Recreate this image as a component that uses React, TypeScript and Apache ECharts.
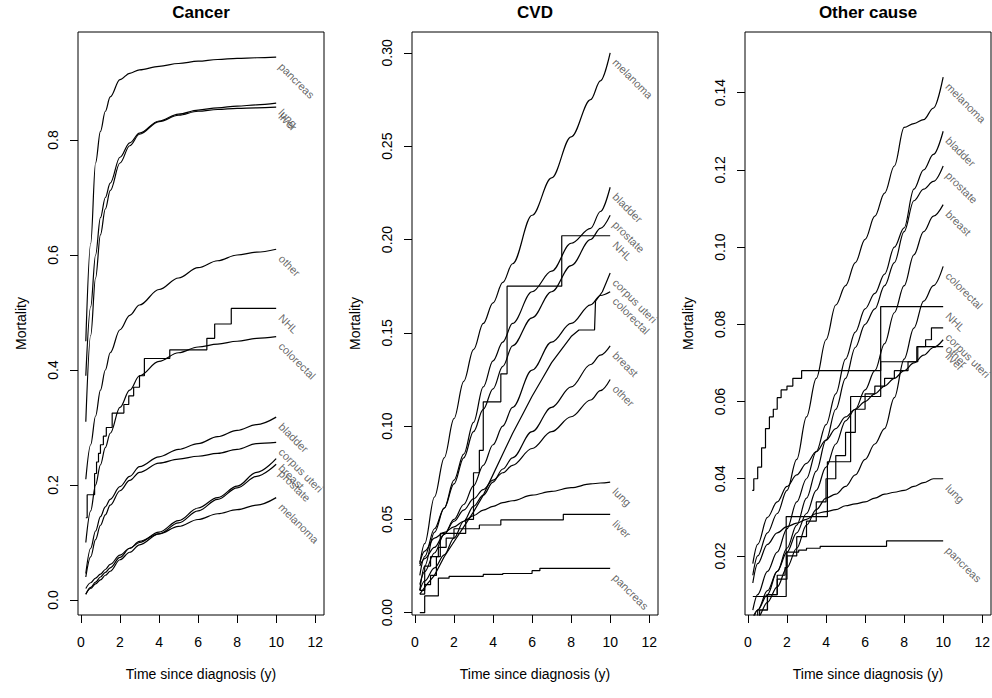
import React, { useEffect, useRef } from "react";
import * as echarts from "echarts";

const FONT = "Liberation Sans";
type Pair = [number, number];

// ---------- shared axis ticks ----------
const xTicks = [0, 2, 4, 6, 8, 10, 12];
const cancerYTicks = [0, 0.2, 0.4, 0.6, 0.8];
const cvdYTicks = [0, 0.05, 0.1, 0.15, 0.2, 0.25, 0.3];
const ocYTicks = [0.02, 0.04, 0.06, 0.08, 0.1, 0.12, 0.14];

// ---------- Cancer ----------
const cancerTimes = [0.25, 0.5, 0.75, 1, 1.25, 1.5, 2, 2.5, 3, 4, 5, 6, 7, 8, 9, 10];
const cancerPancreas = [0.45, 0.62, 0.76, 0.815, 0.85, 0.875, 0.905, 0.916, 0.922, 0.928, 0.933, 0.937, 0.94, 0.942, 0.943, 0.944];
const cancerLung = [0.39, 0.51, 0.6, 0.665, 0.7, 0.725, 0.77, 0.795, 0.812, 0.833, 0.845, 0.852, 0.856, 0.859, 0.861, 0.864];
const cancerLiver = [0.31, 0.46, 0.56, 0.635, 0.68, 0.712, 0.76, 0.79, 0.81, 0.832, 0.843, 0.85, 0.853, 0.855, 0.856, 0.857];
const cancerOther = [0.21, 0.27, 0.32, 0.365, 0.4, 0.43, 0.47, 0.495, 0.513, 0.54, 0.56, 0.578, 0.59, 0.6, 0.605, 0.61];
const cancerColorectal = [0.1, 0.155, 0.2, 0.235, 0.265, 0.29, 0.335, 0.365, 0.39, 0.415, 0.43, 0.44, 0.445, 0.45, 0.455, 0.458];
const cancerBladder = [0.046, 0.09, 0.12, 0.145, 0.162, 0.175, 0.197, 0.215, 0.232, 0.249, 0.262, 0.272, 0.284, 0.295, 0.305, 0.318];
const cancerCorpusUteri = [0.04, 0.075, 0.105, 0.13, 0.148, 0.165, 0.19, 0.208, 0.222, 0.238, 0.245, 0.25, 0.255, 0.262, 0.272, 0.274];
const cancerBreast = [0.02, 0.03, 0.038, 0.045, 0.053, 0.062, 0.078, 0.09, 0.1, 0.118, 0.138, 0.16, 0.178, 0.198, 0.222, 0.246];
const cancerProstate = [0.01, 0.02, 0.028, 0.035, 0.043, 0.05, 0.07, 0.083, 0.096, 0.115, 0.134, 0.155, 0.175, 0.195, 0.215, 0.236];
const cancerMelanoma = [0.01, 0.022, 0.031, 0.04, 0.048, 0.056, 0.074, 0.09, 0.102, 0.115, 0.128, 0.14, 0.15, 0.157, 0.165, 0.178];
const cancerNHL: Pair[] = [[0.25, 0.143], [0.32, 0.183], [0.7, 0.22], [0.8, 0.24], [0.9, 0.255], [1.0, 0.27], [1.15, 0.285], [1.3, 0.3], [1.6, 0.325], [2.2, 0.34], [2.45, 0.355], [2.7, 0.37], [3.0, 0.39], [3.25, 0.42], [4.55, 0.435], [6.45, 0.455], [6.85, 0.48], [7.7, 0.507], [10, 0.507]];

// ---------- CVD ----------
const cvdTimes = [0.25, 0.5, 1, 1.5, 2, 2.5, 3, 3.5, 4, 4.5, 5, 6, 7, 8, 9, 9.5, 10];
const cvdMelanoma = [0.026, 0.037, 0.062, 0.083, 0.104, 0.124, 0.141, 0.155, 0.166, 0.177, 0.187, 0.213, 0.233, 0.255, 0.275, 0.285, 0.3];
const cvdBladder = [0.02, 0.03, 0.045, 0.056, 0.071, 0.085, 0.102, 0.121, 0.135, 0.145, 0.155, 0.172, 0.183, 0.198, 0.206, 0.215, 0.228];
const cvdProstate = [0.012, 0.025, 0.043, 0.056, 0.069, 0.083, 0.097, 0.109, 0.12, 0.132, 0.143, 0.158, 0.172, 0.186, 0.2, 0.206, 0.213];
const cvdColorectal = [0.015, 0.022, 0.032, 0.042, 0.05, 0.058, 0.068, 0.079, 0.09, 0.1, 0.11, 0.13, 0.145, 0.155, 0.165, 0.17, 0.172];
const cvdBreast = [0.012, 0.017, 0.024, 0.031, 0.04, 0.049, 0.057, 0.063, 0.07, 0.077, 0.083, 0.097, 0.11, 0.121, 0.133, 0.138, 0.143];
const cvdOther = [0.025, 0.029, 0.035, 0.042, 0.049, 0.055, 0.061, 0.066, 0.071, 0.075, 0.079, 0.088, 0.097, 0.105, 0.114, 0.119, 0.125];
const cvdLung = [0.027, 0.033, 0.04, 0.043, 0.046, 0.049, 0.052, 0.055, 0.057, 0.059, 0.06, 0.063, 0.065, 0.067, 0.069, 0.0695, 0.07];
const cvdNHL: Pair[] = [[0.25, 0.012], [0.5, 0.025], [0.8, 0.03], [1.2, 0.035], [1.6, 0.04], [2.0, 0.045], [2.6, 0.05], [3.0, 0.075], [3.3, 0.087], [3.5, 0.113], [4.4, 0.128], [4.72, 0.175], [7.52, 0.202], [10, 0.202]];
const cvdCorpusUteri: Pair[] = [[0.25, 0.01], [0.6, 0.015], [1.0, 0.02], [1.5, 0.03], [2.0, 0.038], [2.5, 0.046], [3.0, 0.054], [3.5, 0.063], [4.0, 0.074], [4.5, 0.085], [5.0, 0.096], [5.5, 0.106], [6.0, 0.116], [6.5, 0.125], [7.0, 0.134], [7.5, 0.141], [8.0, 0.148], [8.4, 0.1515], [9.2, 0.1515], [9.25, 0.167], [9.6, 0.172], [9.8, 0.177], [10, 0.182]];
const cvdLiver: Pair[] = [[0.25, 0.01], [0.5, 0.015], [0.8, 0.02], [1.1, 0.03], [1.3, 0.0425], [2.6, 0.045], [3.3, 0.047], [4.4, 0.0497], [7.6, 0.0527], [10, 0.0527]];
const cvdPancreas: Pair[] = [[0.25, 0], [0.5, 0.009], [1.2, 0.0185], [1.75, 0.0195], [3.5, 0.0205], [4.5, 0.021], [6.0, 0.0225], [6.4, 0.0238], [10, 0.0238]];

// ---------- Other cause ----------
const ocTimes = [0.25, 0.5, 1, 1.5, 2, 2.5, 3, 3.5, 4, 4.5, 5, 5.5, 6, 6.5, 7, 7.5, 8, 8.5, 9, 9.5, 10];
const ocMelanoma = [0.015, 0.02, 0.026, 0.031, 0.037, 0.045, 0.056, 0.066, 0.076, 0.085, 0.09, 0.096, 0.102, 0.108, 0.114, 0.121, 0.131, 0.132, 0.133, 0.136, 0.144];
const ocBladder = [0.006, 0.01, 0.016, 0.021, 0.027, 0.034, 0.04, 0.047, 0.054, 0.062, 0.071, 0.078, 0.084, 0.088, 0.093, 0.1, 0.105, 0.115, 0.12, 0.124, 0.13];
const ocProstate = [0.004, 0.006, 0.01, 0.016, 0.022, 0.028, 0.035, 0.042, 0.05, 0.058, 0.066, 0.074, 0.08, 0.084, 0.09, 0.096, 0.104, 0.112, 0.115, 0.117, 0.121];
const ocBreast = [0.003, 0.006, 0.011, 0.016, 0.021, 0.026, 0.031, 0.037, 0.043, 0.049, 0.055, 0.058, 0.063, 0.068, 0.075, 0.083, 0.09, 0.098, 0.104, 0.108, 0.111];
const ocColorectal = [0.002, 0.004, 0.008, 0.012, 0.017, 0.022, 0.028, 0.032, 0.035, 0.036, 0.038, 0.041, 0.045, 0.049, 0.053, 0.061, 0.071, 0.079, 0.086, 0.09, 0.095];
const ocOther = [0.018, 0.023, 0.03, 0.034, 0.038, 0.041, 0.044, 0.047, 0.05, 0.053, 0.056, 0.058, 0.06, 0.062, 0.064, 0.066, 0.068, 0.07, 0.072, 0.074, 0.076];
const ocLung = [0.013, 0.018, 0.023, 0.026, 0.0276, 0.0285, 0.0295, 0.031, 0.0315, 0.032, 0.033, 0.0335, 0.034, 0.035, 0.036, 0.0365, 0.037, 0.038, 0.039, 0.04, 0.04];
const ocNHL: Pair[] = [[0.25, 0.0095], [1.96, 0.0302], [4.07, 0.0444], [5.26, 0.0613], [6.8, 0.0846], [10, 0.0846]];
const ocCorpusUteri: Pair[] = [[0.25, 0.003], [0.6, 0.006], [1.0, 0.01], [1.5, 0.014], [2.0, 0.02], [2.5, 0.025], [3.0, 0.029], [3.5, 0.034], [4.0, 0.04], [4.5, 0.046], [5.0, 0.052], [5.5, 0.058], [6.0, 0.062], [6.5, 0.064], [7.0, 0.066], [7.5, 0.068], [8.2, 0.0703], [8.7, 0.0742], [9.1, 0.076], [9.4, 0.0791], [10, 0.0791]];
const ocLiver: Pair[] = [[0.22, 0.037], [0.3, 0.04], [0.5, 0.043], [0.7, 0.048], [0.9, 0.053], [1.1, 0.056], [1.3, 0.058], [1.5, 0.061], [1.7, 0.063], [2.0, 0.064], [2.3, 0.066], [2.75, 0.068], [6.8, 0.0703], [8.65, 0.0742], [10, 0.0742]];
const ocPancreas: Pair[] = [[0.25, 0.003], [0.5, 0.006], [1.0, 0.01], [1.5, 0.015], [1.9, 0.017], [2.0, 0.021], [2.6, 0.0215], [3.0, 0.022], [3.7, 0.0225], [7.1, 0.0239], [10, 0.0239]];

const zip = (times: number[], vals: number[]): Pair[] => times.map((t, i) => [t, vals[i]] as Pair);

// kind: "smooth" (default), "step" (right-continuous steps), "poly" (straight segments)
interface Curve { name: string; data: Pair[]; kind?: "smooth" | "step" | "poly" }
interface Panel { title: string; left: number; ymin: number; ymax: number; yTicks: number[]; decimals: number; curves: Curve[] }

const panels: Panel[] = [
  {
    title: "Cancer", left: 78, ymin: -0.0261, ymax: 0.9878, yTicks: cancerYTicks, decimals: 1,
    curves: [
      { name: "pancreas", data: zip(cancerTimes, cancerPancreas) },
      { name: "lung", data: zip(cancerTimes, cancerLung) },
      { name: "liver", data: zip(cancerTimes, cancerLiver) },
      { name: "other", data: zip(cancerTimes, cancerOther) },
      { name: "NHL", data: cancerNHL, kind: "step" },
      { name: "colorectal", data: zip(cancerTimes, cancerColorectal) },
      { name: "bladder", data: zip(cancerTimes, cancerBladder) },
      { name: "corpus uteri", data: zip(cancerTimes, cancerCorpusUteri) },
      { name: "breast", data: zip(cancerTimes, cancerBreast) },
      { name: "prostate", data: zip(cancerTimes, cancerProstate) },
      { name: "melanoma", data: zip(cancerTimes, cancerMelanoma) },
    ],
  },
  {
    title: "CVD", left: 412, ymin: -0.00123, ymax: 0.3112, yTicks: cvdYTicks, decimals: 2,
    curves: [
      { name: "melanoma", data: zip(cvdTimes, cvdMelanoma) },
      { name: "bladder", data: zip(cvdTimes, cvdBladder) },
      { name: "prostate", data: zip(cvdTimes, cvdProstate) },
      { name: "NHL", data: cvdNHL, kind: "step" },
      { name: "corpus uteri", data: cvdCorpusUteri, kind: "poly" },
      { name: "colorectal", data: zip(cvdTimes, cvdColorectal) },
      { name: "breast", data: zip(cvdTimes, cvdBreast) },
      { name: "other", data: zip(cvdTimes, cvdOther) },
      { name: "lung", data: zip(cvdTimes, cvdLung) },
      { name: "liver", data: cvdLiver, kind: "step" },
      { name: "pancreas", data: cvdPancreas, kind: "step" },
    ],
  },
  {
    title: "Other cause", left: 745, ymin: 0.00471, ymax: 0.15571, yTicks: ocYTicks, decimals: 2,
    curves: [
      { name: "melanoma", data: zip(ocTimes, ocMelanoma) },
      { name: "bladder", data: zip(ocTimes, ocBladder) },
      { name: "prostate", data: zip(ocTimes, ocProstate) },
      { name: "breast", data: zip(ocTimes, ocBreast) },
      { name: "colorectal", data: zip(ocTimes, ocColorectal) },
      { name: "NHL", data: ocNHL, kind: "step" },
      { name: "corpus uteri", data: ocCorpusUteri, kind: "step" },
      { name: "other", data: zip(ocTimes, ocOther) },
      { name: "liver", data: ocLiver, kind: "step" },
      { name: "lung", data: zip(ocTimes, ocLung) },
      { name: "pancreas", data: ocPancreas, kind: "step" },
    ],
  },
];

const GRID_TOP = 32;
const GRID_H = 583;
const GRID_W = 246;

function buildOption() {
  const grid: any[] = [];
  const xAxis: any[] = [];
  const yAxis: any[] = [];
  const series: any[] = [];
  const graphics: any[] = [];

  panels.forEach((p, i) => {
    grid.push({
      left: p.left, top: GRID_TOP, width: GRID_W, height: GRID_H,
      show: true, borderColor: "#000", borderWidth: 1, backgroundColor: "transparent",
      containLabel: false, outerBoundsMode: "none",
    });
    xAxis.push({
      type: "value", gridIndex: i, min: -0.15, max: 12.45,
      axisLine: { show: false, onZero: false },
      axisTick: { show: true, length: 8, customValues: xTicks, lineStyle: { color: "#000", width: 1 } },
      axisLabel: { show: true, customValues: xTicks, margin: 20, fontSize: 14, color: "#000", fontFamily: FONT },
      splitLine: { show: false },
      name: "Time since diagnosis (y)", nameLocation: "middle", nameGap: 52,
      nameTextStyle: { fontSize: 14, color: "#000", fontFamily: FONT },
    });
    yAxis.push({
      type: "value", gridIndex: i, min: p.ymin, max: p.ymax,
      axisLine: { show: false, onZero: false },
      axisTick: { show: true, length: 8, customValues: p.yTicks, lineStyle: { color: "#000", width: 1 } },
      axisLabel: {
        show: true, customValues: p.yTicks, rotate: 90, margin: 18, fontSize: 14, color: "#000", fontFamily: FONT,
        formatter: (v: number) => v.toFixed(p.decimals),
      },
      splitLine: { show: false },
      name: "Mortality", nameLocation: "middle", nameGap: 50,
      nameTextStyle: { fontSize: 14, color: "#000", fontFamily: FONT },
    });
    p.curves.forEach((c) => {
      const kind = c.kind || "smooth";
      series.push({
        type: "line", name: `${p.title}-${c.name}`, xAxisIndex: i, yAxisIndex: i,
        data: c.data, showSymbol: false, symbol: "none", silent: true,
        step: kind === "step" ? "end" : false,
        smooth: kind === "smooth" ? 0.35 : false, smoothMonotone: "x",
        lineStyle: { color: "#000", width: 1.2 },
      });
    });
    series.push({
      type: "scatter", xAxisIndex: i, yAxisIndex: i, symbolSize: 1, silent: true, z: 5,
      itemStyle: { color: "rgba(0,0,0,0)" },
      data: p.curves.map((c) => ({ name: c.name, value: c.data[c.data.length - 1] })),
      label: {
        show: true, formatter: "{b}", position: [5, 8], align: "left", verticalAlign: "middle",
        rotate: -45, fontSize: 11, color: "#444", fontFamily: FONT,
        textBorderWidth: 0, textBorderColor: "transparent", textShadowBlur: 0,
      },
    });
    graphics.push({
      type: "text", x: p.left + GRID_W / 2, y: 12, silent: true,
      style: {
        text: p.title, font: `bold 17px "${FONT}"`, fill: "#000",
        align: "center", verticalAlign: "middle", textAlign: "center", textVerticalAlign: "middle",
      },
    });
  });

  return {
    animation: false,
    backgroundColor: "#fff",
    textStyle: { fontFamily: FONT },
    grid, xAxis, yAxis, series,
    graphic: { elements: graphics },
  };
}

export default function App() {
  const ref = useRef<HTMLDivElement>(null);
  useEffect(() => {
    if (!ref.current) return;
    const chart = echarts.init(ref.current, undefined, { renderer: "svg" });
    chart.setOption(buildOption());
    return () => chart.dispose();
  }, []);
  return <div ref={ref} style={{ position: "absolute", left: 0, top: 0, width: 992, height: 698 }} />;
}
